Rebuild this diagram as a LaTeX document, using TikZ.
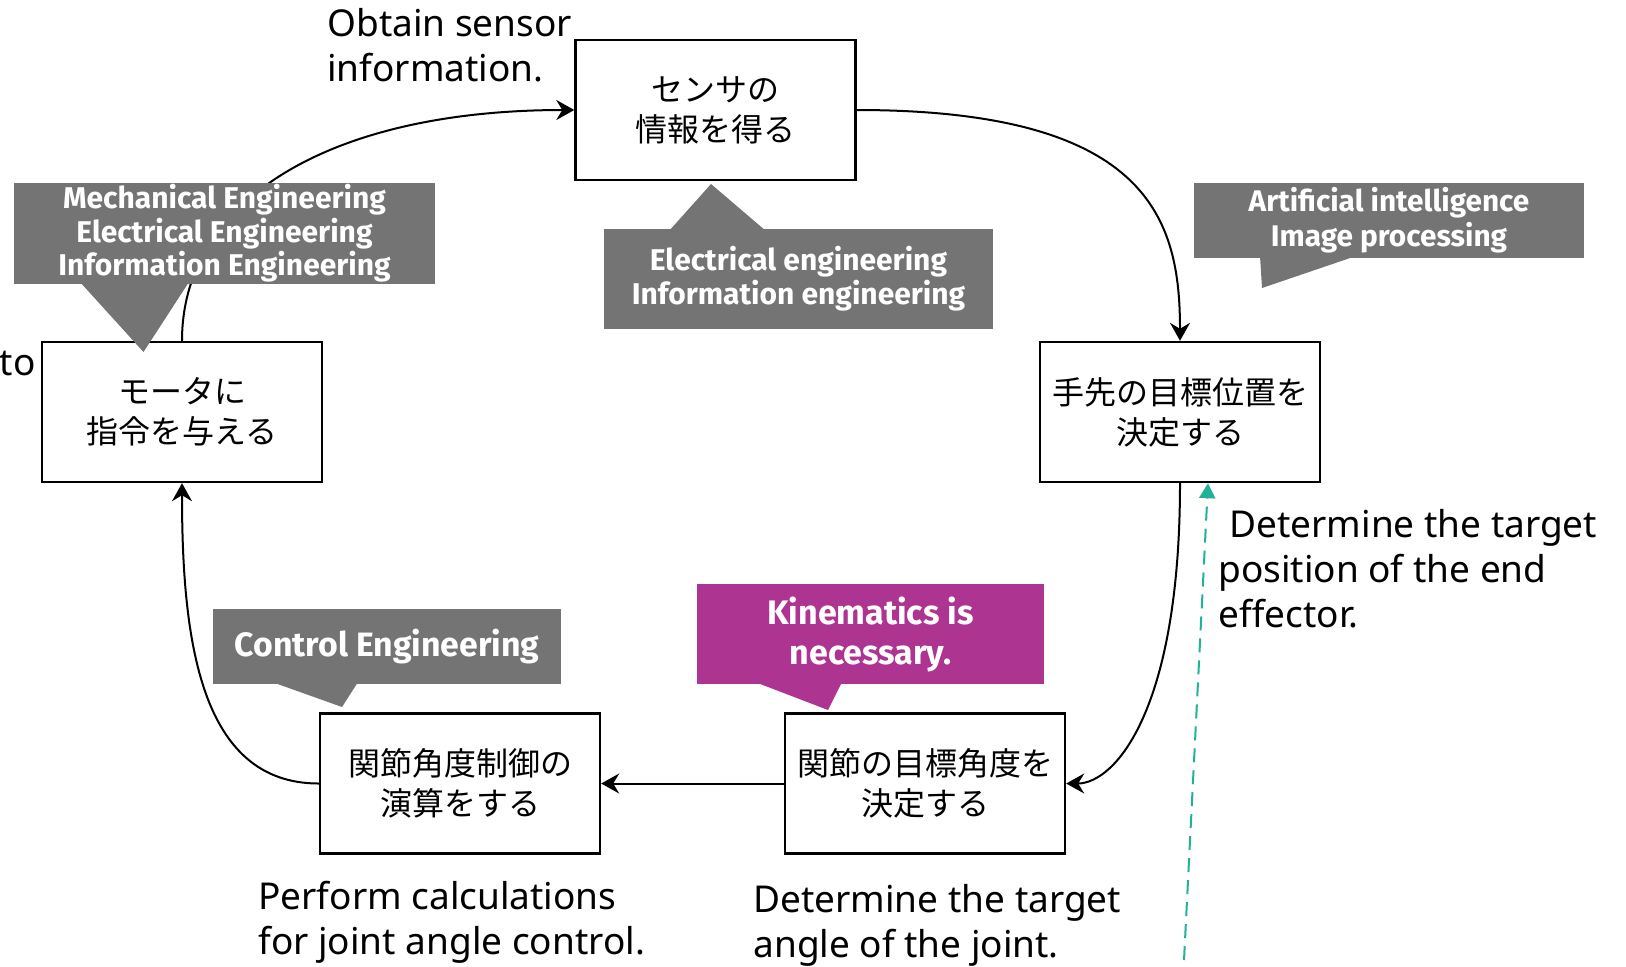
\documentclass[tikz,border=0pt]{standalone}
\usepackage{fontspec}
\setmainfont{Noto Sans}
\newfontfamily\jpfont{Noto Sans CJK JP}
\newfontfamily\calfont{Fira Sans}
\usetikzlibrary{arrows.meta}
\definecolor{calgray}{RGB}{116,116,116}
\definecolor{calmag}{RGB}{173,52,145}
\definecolor{tealdash}{RGB}{32,178,150}
\begin{document}
\begin{tikzpicture}[x=0.5pt,y=-0.5pt,
  procbox/.style={draw=black,line width=1.2pt,minimum width=140pt,minimum height=70pt,
    inner sep=0pt,align=center,font=\jpfont\fontsize{16}{20}\selectfont},
  callout/.style={fill=calgray,text=white,inner sep=0pt,align=center,
    font=\calfont\bfseries\fontsize{15}{16.8}\selectfont},
  pointer/.style={fill=calgray},
  enlabel/.style={inner sep=0pt,align=left,font=\fontsize{18.5}{22.5}\selectfont},
  conn/.style={line width=1pt,-{Stealth[length=9pt,width=10pt,inset=3pt]}},
  tealarrow/.style={tealdash,line width=1pt,dash pattern=on 7pt off 4pt,
    -{Triangle[length=7.5pt,width=8pt]}}
]
\useasboundingbox (0,0) rectangle (1626,966);

% process boxes
\node[procbox] (sense) at (715.5,110) {センサの\\情報を得る};
\node[procbox] (target) at (1180,412) {手先の目標位置を\\決定する};
\node[procbox] (angle) at (925,783.5) {関節の目標角度を\\決定する};
\node[procbox] (calc) at (460,783.5) {関節角度制御の\\演算をする};
\node[procbox] (motor) at (182,412) {モータに\\指令を与える};

% connectors
\draw[conn] (motor.north) .. controls (182,200) and (330,110) .. (sense.west);
\draw[conn] (sense.east) .. controls (1150,110) and (1180,220) .. (target.north);
\draw[conn] (target.south) .. controls (1180,710) and (1115,783.5) .. (angle.east);
\draw[conn] (angle.west) -- (calc.east);
\draw[conn] (calc.west) .. controls (200,783.5) and (182,640) .. (motor.south);

% dashed teal arrow
\coordinate (tealbot) at (1184,960);
\coordinate (tealtop) at ([xshift=14pt]target.south);
\draw[tealarrow] (tealbot) -- (tealtop);

% callouts
\fill[pointer] (80,282) -- (189,282) -- (143.5,352) -- cycle;
\node[callout,minimum width=210.5pt,minimum height=50.5pt] (mech) at (224.5,233.5)
  {Mechanical Engineering\\Electrical Engineering\\Information Engineering};

\fill[pointer] (669,231) -- (766,231) -- (711,184) -- cycle;
\node[callout,minimum width=194.5pt,minimum height=50pt,
  font=\calfont\bfseries\fontsize{15}{17}\selectfont] (elec) at (798.5,279)
  {Electrical engineering\\Information engineering};

\fill[pointer] (1260,256) -- (1356,256) -- (1262,288) -- cycle;
\node[callout,minimum width=195pt,minimum height=37.5pt,
  font=\calfont\bfseries\fontsize{14.9}{17.5}\selectfont] (ai) at (1389,220.5)
  {Artificial intelligence\\Image processing};

\fill[pointer] (272,682) -- (358,682) -- (342,707) -- cycle;
\node[callout,minimum width=174pt,minimum height=37.5pt,
  font=\calfont\bfseries\fontsize{16.9}{18}\selectfont] (ctrl) at (387,646.5)
  {Control Engineering};

\fill[calmag] (755,682) -- (842,682) -- (828,710) -- cycle;
\node[callout,fill=calmag,minimum width=173.5pt,minimum height=50pt,
  font=\calfont\bfseries\fontsize{17}{20}\selectfont] (kin) at (870.5,634)
  {Kinematics is\\necessary.};

% english labels
\node[enlabel,anchor=west] (lsense) at (327,45) {Obtain sensor\\information.};
\node[enlabel,anchor=west] (ltarget) at (1218,569)
  {\hspace*{0.3em}Determine the target\\position of the end\\effector.};
\node[enlabel,anchor=west] (lcalc) at (258,922.5) {Perform calculations\\for joint angle control.};
\node[enlabel,anchor=west] (langle) at (753,925) {Determine the target\\angle of the joint.};
\node[enlabel,anchor=east] (lmotor) at (36,363) {to};
\end{tikzpicture}
\end{document}
